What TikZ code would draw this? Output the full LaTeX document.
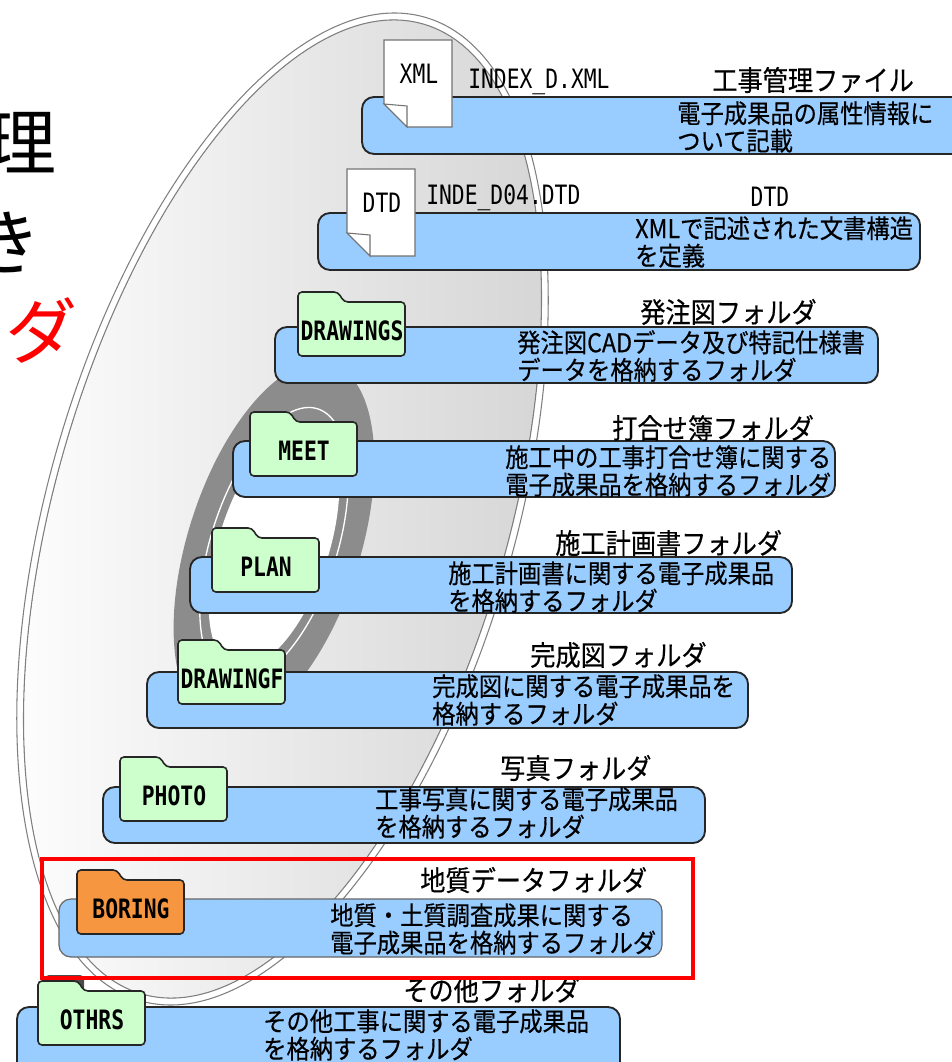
\documentclass[tikz,border=0pt]{standalone}
\usepackage{fontspec}
\setmainfont{Noto Sans CJK JP}
\newfontfamily\jpfont[FakeStretch=0.9, FakeBold=0.4]{Noto Sans CJK JP}
\newfontfamily\monofont[FakeStretch=0.8]{DejaVu Sans Mono}

\definecolor{boxblue}{RGB}{153,204,255}
\definecolor{foldergreen}{RGB}{204,255,204}
\definecolor{folderorange}{RGB}{247,150,64}
\definecolor{hubgray}{RGB}{140,140,140}

\newcommand{\bodyfont}{\jpfont\fontsize{19.4pt}{20.6pt}\selectfont}
\newcommand{\headfont}{\jpfont\fontsize{21pt}{22pt}\selectfont}
\newcommand{\namefont}{\monofont\fontsize{20pt}{22pt}\selectfont}

\tikzset{
  band/.style={draw=black!85, line width=1.4pt, fill=boxblue, rounded corners=9pt},
  folderpath/.style={draw=black!85, line width=1.2pt, rounded corners=3pt},
  page/.style={draw=black!55, line width=0.8pt, fill=white},
  rim/.style={draw=black!50, line width=0.8pt},
  body/.style={anchor=west, align=left, inner sep=0pt, font=\bodyfont},
  head/.style={anchor=west, inner sep=0pt, font=\headfont},
  fname/.style={anchor=west, inner sep=0pt, font=\namefont},
  flabel/.style={inner sep=0pt, font=\namefont\bfseries},
  title/.style={anchor=east, inner sep=0pt, font=\fontsize{54pt}{60pt}\selectfont},
}

% folder: name, x, y (top left), fill, label
\newcommand{\folder}[5]{%
  \draw[folderpath, fill=#4] (#2,#3+64) -- (#2,#3) -- (#2+40,#3) -- (#2+46,#3+10)
    -- (#2+107,#3+10) -- (#2+107,#3+64) -- cycle;
  \node[flabel] (#1) at (#2+54,#3+39) {#5};}

% document sheet with folded corner: name, x, y (top left), label
\newcommand{\docicon}[4]{%
  \draw[page] (#2,#3) -- (#2+68,#3) -- (#2+68,#3+87) -- (#2+23,#3+87) -- (#2,#3+64) -- cycle;
  \draw[page] (#2,#3+64) -- (#2+23,#3+66) -- (#2+23,#3+87) -- cycle;
  \node[flabel, font=\namefont] (#1) at (#2+35,#3+34) {#4};}

\begin{document}
\begin{tikzpicture}[x=0.75pt, y=-0.75pt]
\useasboundingbox (0,0) rectangle (951,1062);

\node[title] (ri) at (57,143) {理};
\node[title] (ki) at (42,243) {き};
\node[title, text=red] (da) at (78,330) {ダ};

% disc
\fill[left color=white, right color=black!17, rotate around={-16.2:(282.5,509)}] (282.5,509) ellipse (226 and 505);
\draw[rim, rotate around={-16.2:(282.5,509)}] (282.5,509) ellipse (233.3 and 512);
\draw[rim, rotate around={-16.2:(282.5,509)}] (282.5,509) ellipse (226.3 and 505);
\fill[hubgray, rotate around={-17.8:(274,545)}] (274,545) ellipse (86 and 190);
\draw[white, line width=1pt, rotate around={-17.8:(274,545)}] (274,545) ellipse (63 and 143);
\fill[white, rotate around={-17.8:(274,545)}] (274,545) ellipse (55 and 128);

\draw[band] (362,97) rectangle (975,154);
\docicon{xml}{384}{40}{XML}
\node[fname] (indexd) at (468,82) {INDEX\_D.XML};
\node[head] (kanri) at (712,80) {工事管理ファイル};
\node[body] (kanritxt) at (677,127) {電子成果品の属性情報に\\ついて記載};

\draw[band] (318,213) rectangle (920,270);
\docicon{dtd}{347}{169}{DTD}
\node[fname] (inded) at (426,198) {INDE\_D04.DTD};
\node[fname, anchor=center] (dtdhead) at (770,197) {DTD};
\node[body] (dtdtxt) at (635,242) {XMLで記述された文書構造\\を定義};

\draw[band] (275,327) rectangle (878,383);
\folder{drawings}{298}{292}{foldergreen}{DRAWINGS}
\node[head] (hacchu) at (640,312) {発注図フォルダ};
\node[body] (hacchutxt) at (517,356) {発注図CADデータ及び特記仕様書\\データを格納するフォルダ};

\draw[band] (233,441) rectangle (835,497);
\folder{meet}{250}{412}{foldergreen}{MEET}
\node[head] (uchiawase) at (612,428) {打合せ簿フォルダ};
\node[body] (uchiawasetxt) at (505,471) {施工中の工事打合せ簿に関する\\電子成果品を格納するフォルダ};

\draw[band] (190,557) rectangle (792,613);
\folder{plan}{212}{528}{foldergreen}{PLAN}
\node[head] (sekou) at (555,543) {施工計画書フォルダ};
\node[body] (sekoutxt) at (448,587) {施工計画書に関する電子成果品\\を格納するフォルダ};

\draw[band] (147,672) rectangle (748,728);
\folder{drawingf}{178}{640}{foldergreen}{DRAWINGF}
\node[head] (kansei) at (530,655) {完成図フォルダ};
\node[body] (kanseitxt) at (432,700) {完成図に関する電子成果品を\\格納するフォルダ};

\draw[band] (103,787) rectangle (705,843);
\folder{photo}{120}{757}{foldergreen}{PHOTO}
\node[head] (shashin) at (500,768) {写真フォルダ};
\node[body] (shashintxt) at (375,813) {工事写真に関する電子成果品\\を格納するフォルダ};

\draw[band, draw=black!60, line width=0.9pt] (59,899) rectangle (662,957);
\folder{boring}{77}{870}{folderorange}{BORING}
\node[head] (chishitsu) at (420,880) {地質データフォルダ};
\node[body] (chishitsutxt) at (330,929) {地質・土質調査成果に関する\\電子成果品を格納するフォルダ};

\draw[band] (17,1007) rectangle (620,1075);
\fill[black!70, rounded corners=3pt] (45,975) rectangle (84,992);
\folder{othrs}{38}{981}{foldergreen}{OTHRS}
\node[head] (sonota) at (403,990) {その他フォルダ};
\node[body] (sonotatxt) at (263,1035) {その他工事に関する電子成果品\\を格納するフォルダ};

\draw[red, line width=3pt] (42,859) rectangle (693,978);
\end{tikzpicture}
\end{document}
